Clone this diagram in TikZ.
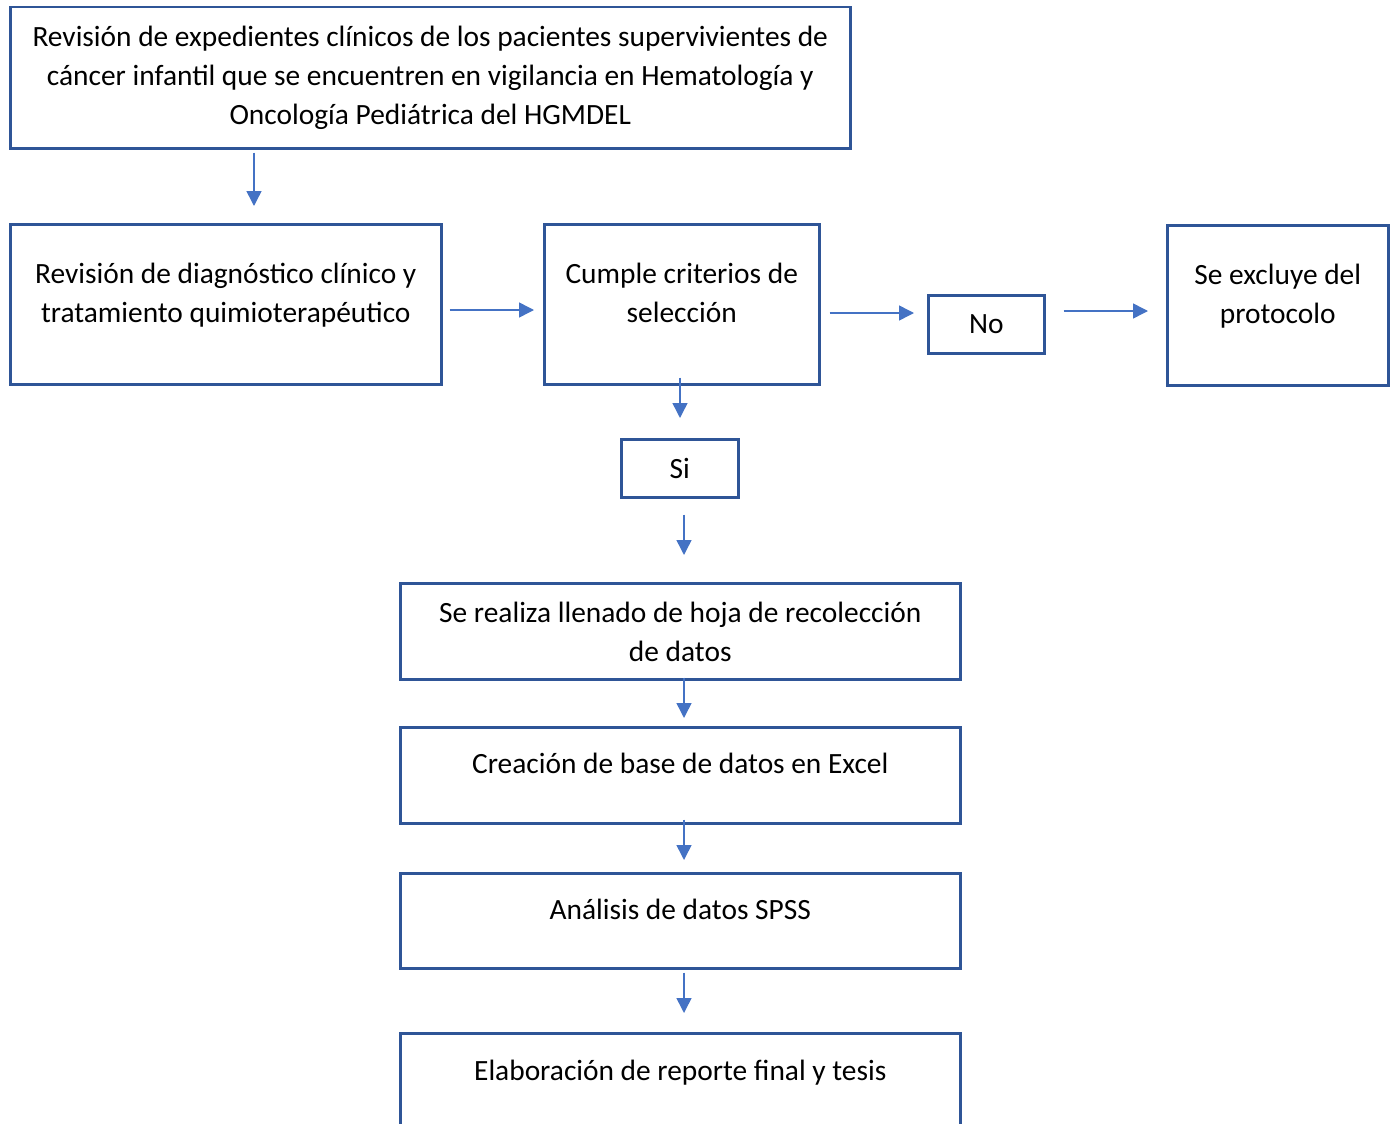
\documentclass[tikz,border=0pt]{standalone}
\usepackage{fontspec}
\setmainfont{Carlito}
\usetikzlibrary{arrows.meta}

\definecolor{boxblue}{HTML}{2F5597}
\definecolor{arrowblue}{HTML}{4472C4}

\begin{document}
\begin{tikzpicture}[
  x=1pt, y=-1pt,
  font=\fontsize{29.4}{39}\selectfont,
  box/.style={draw=boxblue, line width=2.5pt, inner sep=0pt, align=center,
              anchor=north west},
  arr/.style={->, draw=arrowblue, line width=1.5pt},
  >={Triangle[length=15pt,width=15pt]},
]
  \useasboundingbox (0,0) rectangle (1395,1124);

  % boxes
  \node[box, minimum width=840pt, text height=117pt, text depth=24pt] (rev) at (9,6)
    {Revisión de expedientes clínicos de los pacientes supervivientes de\\
     cáncer infantil que se encuentren en vigilancia en Hematología y\\
     Oncología Pediátrica del HGMDEL};
  \node[box, minimum width=431pt, text height=98pt, text depth=62pt] (diag) at (9,223)
    {Revisión de diagnóstico clínico y\\ tratamiento quimioterapéutico};
  \node[box, minimum width=275pt, text height=98pt, text depth=62pt] (crit) at (543,223)
    {Cumple criterios de\\ selección};
  \node[box, minimum width=116pt, text height=38pt, text depth=20pt] (no) at (927,294) {No};
  \node[box, minimum width=221pt, text height=98pt, text depth=62pt] (excl) at (1166,224)
    {Se excluye del\\ protocolo};
  \node[box, minimum width=117pt, text height=39pt, text depth=19pt] (si) at (620,438) {Si};
  \node[box, minimum width=560pt, text height=78pt, text depth=18pt] (hoja) at (399,582)
    {Se realiza llenado de hoja de recolección\\ de datos};
  \node[box, minimum width=560pt, text height=46pt, text depth=50pt] (excel) at (399,726)
    {Creación de base de datos en Excel};
  \node[box, minimum width=560pt, text height=46pt, text depth=49pt] (spss) at (399,872)
    {Análisis de datos SPSS};
  \node[box, minimum width=560pt, text height=47pt, text depth=60pt] (tesis) at (399,1032)
    {Elaboración de reporte final y tesis};

  % arrows
  \draw[arr, shorten <=3pt, shorten >=17pt] (rev.south -| 254,0) -- (diag.north -| 254,0);
  \draw[arr, shorten <=7pt, shorten >=9pt] (diag.east |- 0,310) -- (crit.west |- 0,310);
  \draw[arr, shorten <=9pt, shorten >=13pt] (crit.east |- 0,313) -- (no.west |- 0,313);
  \draw[arr, shorten <=18pt, shorten >=18pt] (no.east |- 0,311) -- (excl.west |- 0,311);
  \draw[arr, shorten <=-8pt, shorten >=20pt] (crit.south -| 680,0) -- (si.north -| 680,0);
  \draw[arr, shorten <=16pt, shorten >=27pt] (si.south -| 684,0) -- (hoja.north -| 684,0);
  \draw[arr, shorten <=-3pt, shorten >=8pt] (hoja.south -| 684,0) -- (excel.north -| 684,0);
  \draw[arr, shorten <=-5pt, shorten >=12pt] (excel.south -| 684,0) -- (spss.north -| 684,0);
  \draw[arr, shorten <=3pt, shorten >=19pt] (spss.south -| 684,0) -- (tesis.north -| 684,0);
\end{tikzpicture}
\end{document}
